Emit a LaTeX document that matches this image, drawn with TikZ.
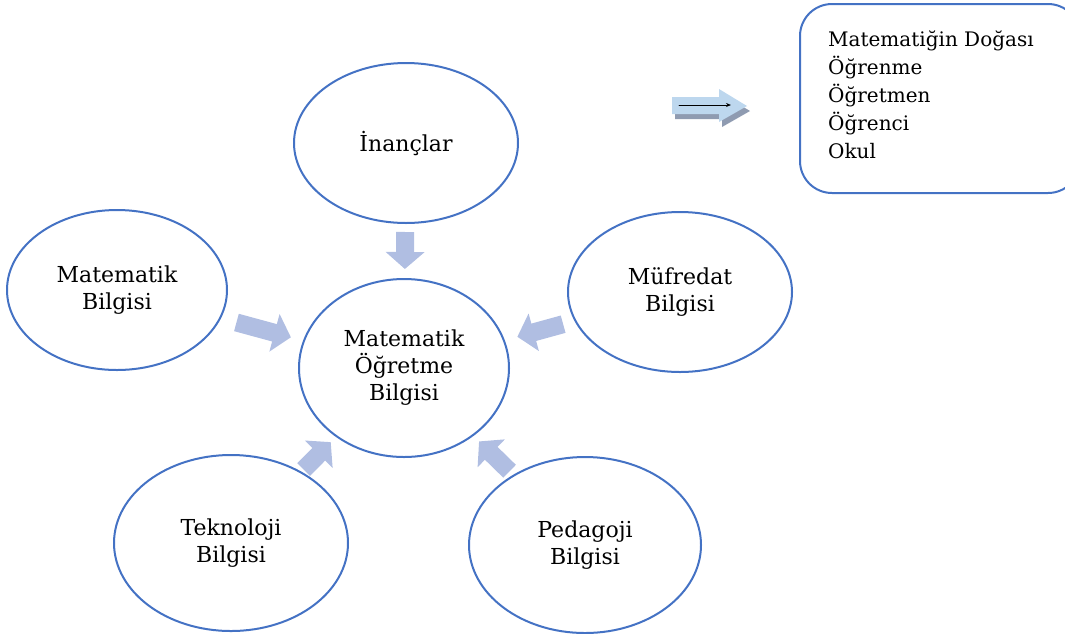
\documentclass[tikz,border=0pt]{standalone}
\usepackage{fontspec}
\setmainfont{DejaVu Serif}
\usepackage{tikz}
\usetikzlibrary{arrows.meta,shapes.geometric}
\definecolor{qqxdcc}{rgb}{0.266666666667,0.447058823529,0.768627450980}
\definecolor{bbccee}{rgb}{0.690196078431,0.745098039216,0.886274509804}
\definecolor{bbddee}{rgb}{0.741176470588,0.843137254902,0.933333333333}
\definecolor{wwxxbb}{rgb}{0.560784313725,0.607843137255,0.694117647059}
\tikzset{
balon/.style={draw=qqxdcc,line width=2pt,ellipse,inner sep=0pt,align=center,font=\fontsize{22}{27}\selectfont},
kalinok/.style={draw=bbccee,line width=18pt,line cap=butt,-{Triangle[length=17pt,width=38pt]}},
kutu/.style={draw=qqxdcc,line width=2pt,rounded corners=32pt,inner sep=0pt},
yazi/.style={inner sep=0pt,align=left,font=\fontsize{20}{28}\selectfont}
}
\begin{document}
\begin{tikzpicture}[line cap=round,line join=round,x=1pt,y=-1pt]
\useasboundingbox (0,0) rectangle (1065,633);
% ellipses
\node[balon,minimum width=224pt,minimum height=160pt] (inanc) at (406,143) {İnançlar};
\node[balon,minimum width=220pt,minimum height=160pt] (matbil) at (117,290) {Matematik\\Bilgisi};
\node[balon,minimum width=210pt,minimum height=178pt] (mob) at (404,368) {Matematik\\Öğretme\\Bilgisi};
\node[balon,minimum width=224pt,minimum height=160pt] (mufredat) at (680,292) {Müfredat\\Bilgisi};
\node[balon,minimum width=234pt,minimum height=176pt] (teknoloji) at (231,543) {Teknoloji\\Bilgisi};
\node[balon,minimum width=232pt,minimum height=176pt] (pedagoji) at (585,545) {Pedagoji\\Bilgisi};
% thick arrows
\draw[kalinok,shorten <=8pt,shorten >=9pt] (inanc) -- (mob);
\draw[kalinok,shorten <=16pt,shorten >=12.6pt] (matbil) -- (mob);
\draw[kalinok,shorten <=11.8pt,shorten >=13pt] (mufredat) -- (mob);
\draw[kalinok,shorten <=3pt,shorten >=7.3pt] (teknoloji) -- (mob);
\draw[kalinok,shorten <=5pt,shorten >=7.8pt] (pedagoji) -- (mob);
% legend
\node[kutu,anchor=north west,minimum width=280pt,minimum height=189pt] (liste) at (799,3) {};
\node[yazi,anchor=north west] (listeyazi) at ([xshift=29pt,yshift=-28pt]liste.north west) {Matematiğin Doğası\\Öğrenme\\Öğretmen\\Öğrenci\\Okul};
\fill[wwxxbb] (675,102) -- (722,102) -- (722,94) -- (750,111) -- (722,127) -- (722,119) -- (675,119) -- cycle;
\fill[bbddee] (672,97) -- (719,97) -- (719,89) -- (747,106) -- (719,122) -- (719,114) -- (672,114) -- cycle;
\coordinate (okbas) at (679,105);
\coordinate (okuc) at (731,105);
\draw[line width=1pt,-{Stealth[length=5pt,width=4pt]}] (okbas) -- (okuc);
\end{tikzpicture}
\end{document}
